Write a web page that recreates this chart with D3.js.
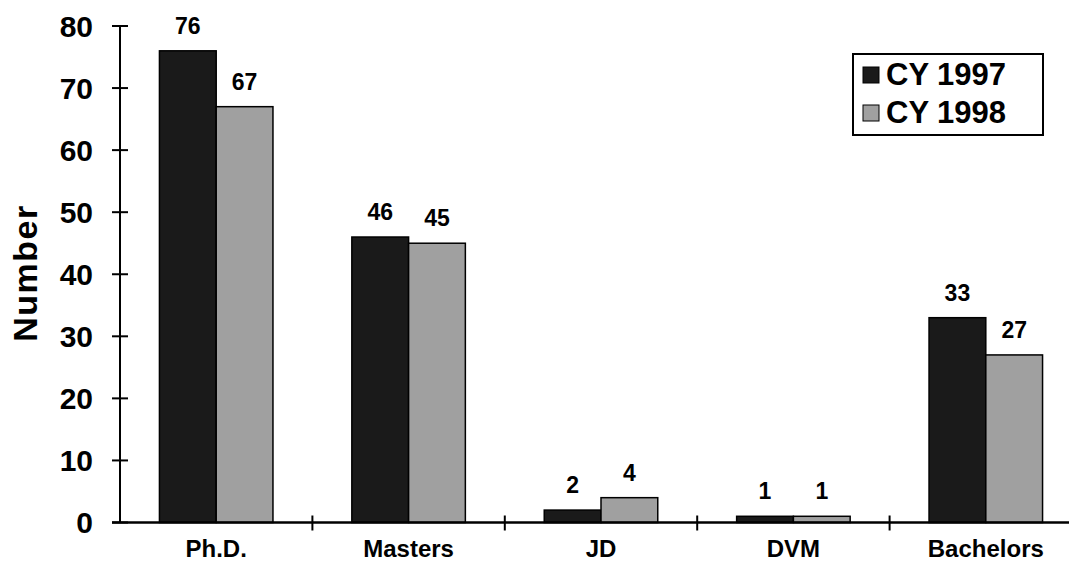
<!DOCTYPE html>
<html>
<head>
<meta charset="utf-8">
<script src="https://cdn.jsdelivr.net/npm/d3@7"></script>
<style>
  html, body { margin: 0; padding: 0; background: #fff; }
  svg { display: block; font-family: "Liberation Sans", Arial, sans-serif; font-weight: bold; }
</style>
</head>
<body>
<svg id="chart" width="1069" height="564"></svg>
<script>
const categories = ["Ph.D.", "Masters", "JD", "DVM", "Bachelors"];
const seriesNames = ["CY 1997", "CY 1998"];
const values1997 = [76, 46, 2, 1, 33];
const values1998 = [67, 45, 4, 1, 27];
const yTicks = [0, 10, 20, 30, 40, 50, 60, 70, 80];
const seriesColors = ["#1a1a1a", "#a0a0a0"];

const svg = d3.select("#chart");
const x0 = 120, xEnd = 1082, yBase = 522.5, yTop = 26;

const x = d3.scaleBand().domain(categories).range([x0, xEnd])
  .paddingInner(0.41).paddingOuter(0.205);
const xs = d3.scaleBand().domain(seriesNames).range([0, x.bandwidth()]);
const y = d3.scaleLinear().domain([0, 80]).range([yBase, yTop]);

const rows = categories.map((c, i) => ({cat: c, vals: [values1997[i], values1998[i]]}));

// bars
const g = svg.append("g");
rows.forEach(r => {
  r.vals.forEach((v, j) => {
    g.append("rect")
      .attr("x", x(r.cat) + xs(seriesNames[j]))
      .attr("y", y(v))
      .attr("width", xs.bandwidth())
      .attr("height", y(0) - y(v))
      .attr("fill", seriesColors[j])
      .attr("stroke", "#000")
      .attr("stroke-width", 1.5);
    g.append("text")
      .attr("x", x(r.cat) + xs(seriesNames[j]) + xs.bandwidth() / 2)
      .attr("y", y(v) - 17)
      .attr("text-anchor", "middle")
      .attr("font-size", 23)
      .attr("fill", "#000")
      .text(v);
  });
});

// y axis
const yAxis = svg.append("g");
yAxis.append("line").attr("x1", x0).attr("x2", x0).attr("y1", y(80)).attr("y2", y(0))
  .attr("stroke", "#000").attr("stroke-width", 2);
yTicks.forEach(t => {
  yAxis.append("line").attr("x1", x0 - 8).attr("x2", x0 + 8).attr("y1", y(t)).attr("y2", y(t))
    .attr("stroke", "#000").attr("stroke-width", 2);
  yAxis.append("text").attr("x", 93).attr("y", y(t)).attr("dy", "0.36em")
    .attr("text-anchor", "end").attr("font-size", 30).attr("fill", "#000").text(t);
});

// x axis
const xAxis = svg.append("g");
xAxis.append("line").attr("x1", x0 - 8).attr("x2", 1069).attr("y1", y(0)).attr("y2", y(0))
  .attr("stroke", "#000").attr("stroke-width", 2.5);
const step = x.step();
categories.forEach((c, i) => {
  const bx = x0 + step * (i + 1);
  xAxis.append("line").attr("x1", bx).attr("x2", bx).attr("y1", y(0) - 7).attr("y2", y(0) + 8)
    .attr("stroke", "#000").attr("stroke-width", 2);
  xAxis.append("text").attr("x", x(c) + x.bandwidth() / 2).attr("y", 557)
    .attr("text-anchor", "middle").attr("font-size", 24).attr("fill", "#000").text(c);
});

// y title
svg.append("text").attr("transform", "translate(37,273) rotate(-90)")
  .attr("text-anchor", "middle").attr("font-size", 34).attr("letter-spacing", 1.5)
  .attr("fill", "#000").text("Number");

// legend
const lg = svg.append("g");
lg.append("rect").attr("x", 853).attr("y", 54).attr("width", 190).attr("height", 81)
  .attr("fill", "#fff").attr("stroke", "#000").attr("stroke-width", 2);
seriesNames.forEach((s, j) => {
  const cy = 75 + j * 38;
  lg.append("rect").attr("x", 863).attr("y", cy - 8).attr("width", 16).attr("height", 16)
    .attr("fill", seriesColors[j]).attr("stroke", "#000").attr("stroke-width", 1);
  lg.append("text").attr("x", 886).attr("y", cy + 10).attr("font-size", 31)
    .attr("fill", "#000").text(s);
});
</script>
</body>
</html>
